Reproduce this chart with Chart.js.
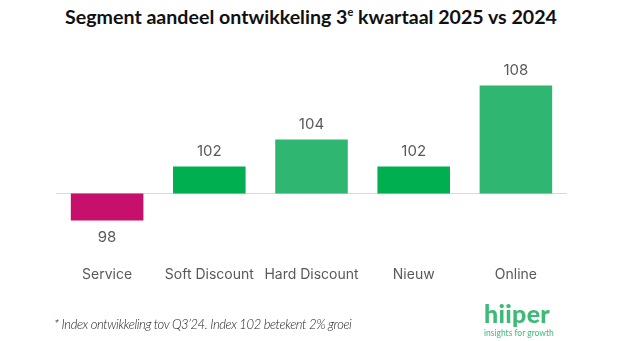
<!DOCTYPE html>
<html>
<head>
<meta charset="utf-8">
<script src="https://cdn.jsdelivr.net/npm/chart.js@4/dist/chart.umd.min.js"></script>
<style>
  html, body { margin: 0; padding: 0; background: #fff; }
  #wrap { position: relative; width: 622px; height: 341px; overflow: hidden; }
  #chart { position: absolute; left: 0; top: 0; }
  .title {
    position: absolute; left: 0; top: 5px; width: 622px; text-align: center;
    font: bold 19.6px Lato, "Open Sans", sans-serif; color: #111;
  }
  .title sup { font-size: 11px; vertical-align: 0; position: relative; top: -8px; }
  .note {
    position: absolute; left: 54px; top: 316px; letter-spacing: -0.4px;
    font: italic 300 13px Lato, "Open Sans", sans-serif; color: #222;
  }
  .logo { position: absolute; left: 484px; top: 301px; color: #3dbb76; font-family: Lato, sans-serif; }
  .logo .name { font-weight: 900; font-size: 25px; line-height: 25px; letter-spacing: 0.3px; }
  .logo .tag { font-size: 8.5px; line-height: 10px; margin-top: 2px; }
</style>
</head>
<body>
<div id="wrap">
  <div class="title">Segment aandeel ontwikkeling 3<sup>e</sup> kwartaal 2025 vs 2024</div>
  <canvas id="chart" width="622" height="341"></canvas>
  <div class="note">* Index ontwikkeling tov Q3’24. Index 102 betekent 2% groei</div>
  <div class="logo"><div class="name">hiiper</div><div class="tag">insights for growth</div></div>
</div>
<script>
// index values per segment, base = 100
const segments = ["Service", "Soft Discount", "Hard Discount", "Nieuw", "Online"];
const indexValues = [98, 102, 104, 102, 108];
const barColors = ["#c70f6c", "#00b050", "#2fb670", "#00b050", "#2fb670"];
const baseIndex = 100;

const textGrey = "#595959";

// thin line at index 100 across the plot
const baseLine = {
  id: "baseLine",
  beforeDatasetsDraw(chart) {
    const { ctx, chartArea, scales } = chart;
    const y = Math.round(scales.y.getPixelForValue(baseIndex)) + 0.5;
    ctx.save();
    ctx.strokeStyle = "#d9d9d9";
    ctx.lineWidth = 1;
    ctx.beginPath();
    ctx.moveTo(chartArea.left, y);
    ctx.lineTo(chartArea.right, y);
    ctx.stroke();
    ctx.restore();
  }
};

// value label above rising bars, below falling ones
const valueLabels = {
  id: "valueLabels",
  afterDatasetsDraw(chart) {
    const { ctx } = chart;
    const meta = chart.getDatasetMeta(0);
    ctx.save();
    ctx.font = "15px Inter, 'Open Sans', sans-serif";
    ctx.fillStyle = textGrey;
    ctx.textAlign = "center";
    ctx.textBaseline = "middle";
    meta.data.forEach((bar, i) => {
      const v = indexValues[i];
      const top = Math.min(bar.y, bar.base);
      const bottom = Math.max(bar.y, bar.base);
      const y = v >= baseIndex ? top - 15 : bottom + 17;
      ctx.fillText(String(v), bar.x, y);
    });
    ctx.restore();
  }
};

new Chart(document.getElementById("chart"), {
  type: "bar",
  data: {
    labels: segments,
    datasets: [{
      data: indexValues.map(v => [baseIndex, v]),
      backgroundColor: barColors,
      borderWidth: 0,
      barPercentage: 0.71,
      categoryPercentage: 1
    }]
  },
  options: {
    responsive: false,
    animation: false,
    layout: { padding: { top: 45, bottom: 54, left: 56, right: 55 } },
    plugins: { legend: { display: false }, tooltip: { enabled: false } },
    scales: {
      x: {
        grid: { display: false },
        border: { display: false },
        ticks: {
          color: textGrey,
          font: { family: "Inter, 'Open Sans', sans-serif", size: 14 },
          padding: 4,
          maxRotation: 0,
          autoSkip: false
        }
      },
      y: { display: false, min: 95.5, max: 111 }
    }
  },
  plugins: [baseLine, valueLabels]
});
</script>
</body>
</html>
